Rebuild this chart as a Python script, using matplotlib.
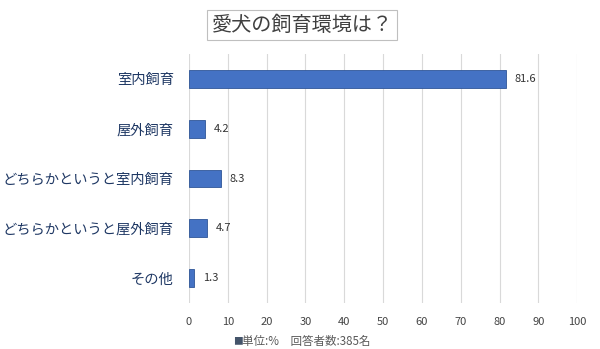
import matplotlib
matplotlib.use("Agg")
import matplotlib.pyplot as plt

plt.rcParams['font.family'] = ['Noto Sans CJK JP', 'DejaVu Sans']

categories = ["室内飼育", "屋外飼育", "どちらかというと室内飼育", "どちらかというと屋外飼育", "その他"]
values = [81.6, 4.2, 8.3, 4.7, 1.3]
xticks = [0, 10, 20, 30, 40, 50, 60, 70, 80, 90, 100]
title = "愛犬の飼育環境は？"
legend_text = "単位:%　回答者数:385名"

bar_color = "#4472C4"
label_color = "#1F3864"

fig = plt.figure(figsize=(6.0, 3.49), dpi=100)
ax = fig.add_axes([0.315, 0.132, 0.647, 0.713])

ypos = list(range(len(categories)))
ax.barh(ypos, values, height=0.36, color=bar_color, edgecolor="#2F5597", linewidth=0.6, zorder=3)
for y, v in zip(ypos, values):
    ax.text(v + 2.2, y, f"{v}", va="center", ha="left", fontsize=8, color="#333333")

ax.set_ylim(len(categories) - 0.5, -0.5)
ax.set_xlim(0, 100)
ax.set_yticks(ypos)
ax.set_yticklabels(categories, fontsize=10.3, color=label_color)
ax.set_xticks(xticks)
ax.set_xticklabels([str(t) for t in xticks], fontsize=8, color="#444444")
ax.tick_params(axis="y", length=0, pad=11)
ax.tick_params(axis="x", length=0, pad=10)
ax.grid(axis="x", color="#D9D9D9", linewidth=0.8, zorder=0)
for s in ["top", "right", "left", "bottom"]:
    ax.spines[s].set_visible(False)

# title box
fig.text(0.5033, 0.928, title, ha="center", va="center", fontsize=14.5, color="#404040",
         bbox=dict(boxstyle="square,pad=0.22", facecolor="white", edgecolor="#BFBFBF", linewidth=0.8))

# legend
fig.text(0.388, 0.022, "■", ha="left", va="center", fontsize=7, color="#44546A")
fig.text(0.404, 0.022, legend_text, ha="left", va="center", fontsize=8.3, color="#595959")

fig.savefig("out.png", dpi=100, facecolor="white")
